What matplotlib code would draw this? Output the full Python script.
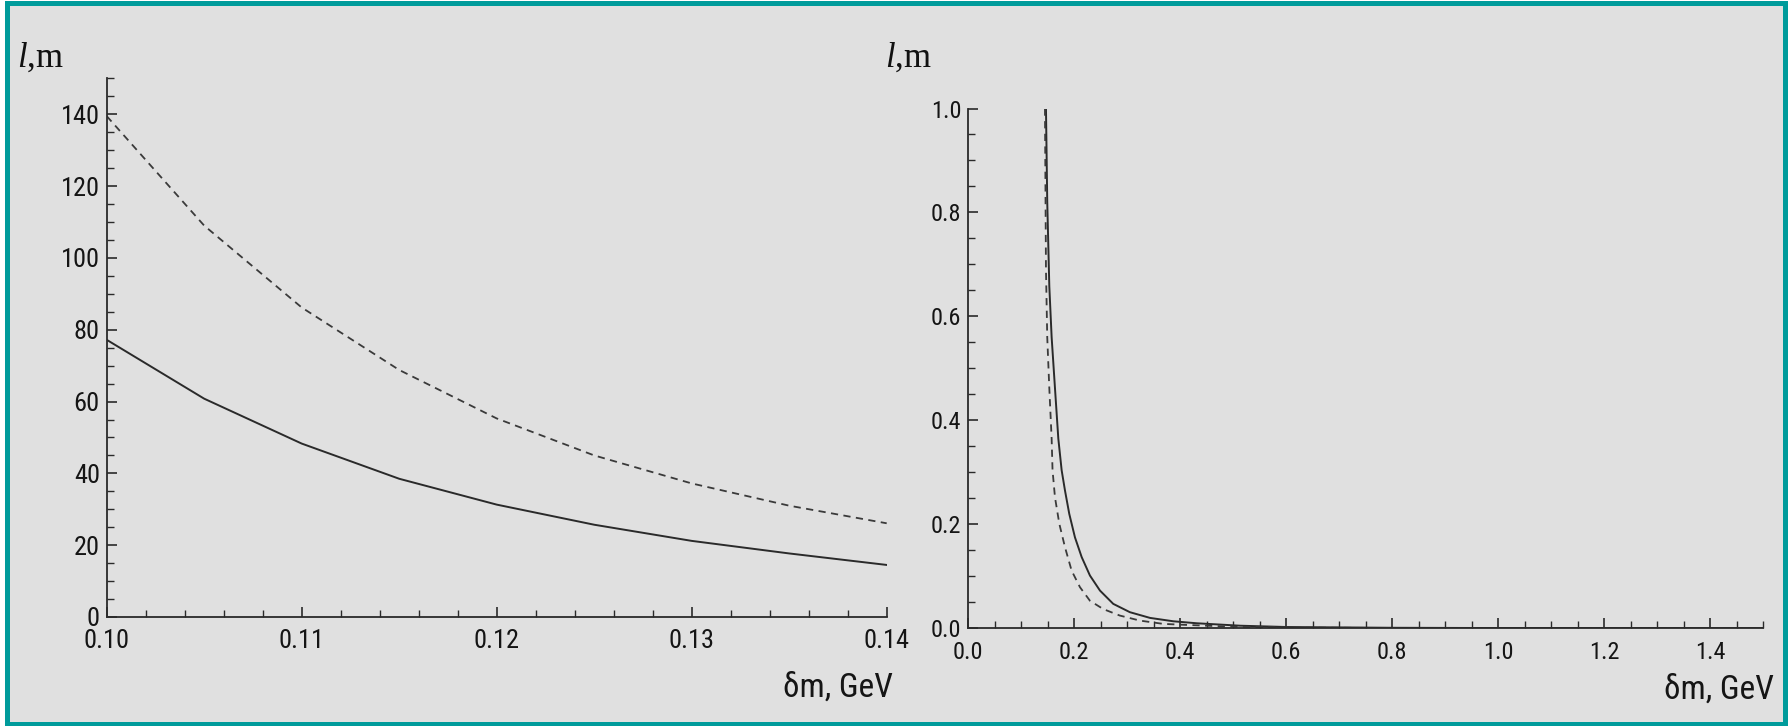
import numpy as np
import matplotlib
matplotlib.use("Agg")
import matplotlib.pyplot as plt
from matplotlib.patches import Rectangle
from matplotlib.ticker import MultipleLocator, FormatStrFormatter

# data ------------------------------------------------------------------------
# left panel: delta m in GeV, decay length in m
dm_left = [0.100, 0.105, 0.110, 0.115, 0.120, 0.125, 0.130, 0.135, 0.140]
l_solid_left = [77.2, 60.8, 48.3, 38.5, 31.3, 25.7, 21.2, 17.7, 14.5]
l_dash_left = [139.5, 109.0, 86.2, 68.8, 55.3, 45.0, 37.2, 31.0, 26.1]

# right panel: same quantities on a wide range (curves clipped at 1.0)
dm_solid_right = [0.1466, 0.1490, 0.1529, 0.1573, 0.1636, 0.1699, 0.1762,
                  0.1825, 0.1906, 0.2013, 0.2140, 0.2296, 0.2485, 0.2736,
                  0.3050, 0.3430, 0.3870, 0.4310, 0.5130, 0.6000, 0.8000,
                  1.0000, 1.5000]
l_solid_right = [1.000, 0.821, 0.658, 0.560, 0.462, 0.365, 0.304,
                 0.265, 0.220, 0.175, 0.137, 0.1015, 0.0726, 0.047,
                 0.031, 0.020, 0.0135, 0.0097, 0.005, 0.0025, 0.001,
                 0.0005, 0.0002]
dm_dash_right = [0.1447, 0.1466, 0.1490, 0.1529, 0.1573, 0.1590, 0.1636,
                 0.1718, 0.1825, 0.1950, 0.2108, 0.2296, 0.2547, 0.2860,
                 0.3240, 0.3680, 0.4120, 0.5000, 0.6000, 0.8000, 1.0000,
                 1.5000]
l_dash_right = [1.000, 0.690, 0.560, 0.462, 0.365, 0.304, 0.252,
                0.201, 0.156, 0.111, 0.079, 0.053, 0.037, 0.0245,
                0.0148, 0.0085, 0.0065, 0.003, 0.0015, 0.0005, 0.0003,
                0.0001]

left_xticks = [0.10, 0.11, 0.12, 0.13, 0.14]
left_yticks = [0, 20, 40, 60, 80, 100, 120, 140]
right_xticks = [0.0, 0.2, 0.4, 0.6, 0.8, 1.0, 1.2, 1.4]
right_yticks = [0.0, 0.2, 0.4, 0.6, 0.8, 1.0]

W, H = 1791, 726
BG = '#e0e0e0'
TEAL = '#009b9b'
INK = '#2a2a2a'
TICKFONT = ['Roboto Condensed', 'DejaVu Sans']

plt.rcParams['mathtext.fontset'] = 'custom'
plt.rcParams['mathtext.it'] = 'Liberation Serif:italic'
plt.rcParams['mathtext.rm'] = 'Liberation Serif'

fig = plt.figure(figsize=(W / 100, H / 100), dpi=100)
fig.patch.set_facecolor('white')

# gray panel with teal frame
fig.add_artist(Rectangle((7.5 / W, 2.5 / H), (1784.5 - 7.5) / W, (723.5 - 2.5) / H,
                         transform=fig.transFigure, facecolor=BG, edgecolor=TEAL,
                         linewidth=3.6, zorder=0))


def px_axes(x0, x1, ytop, ybot):
    return fig.add_axes([x0 / W, 1 - ybot / H, (x1 - x0) / W, (ybot - ytop) / H])


def style(ax, size):
    ax.set_facecolor('none')
    for s in ['top', 'right']:
        ax.spines[s].set_visible(False)
    for s in ['left', 'bottom']:
        ax.spines[s].set_linewidth(1.3)
        ax.spines[s].set_color(INK)
    ax.tick_params(which='major', direction='in', length=7.2, width=1.2, color=INK,
                   labelsize=size, labelcolor='#151515')
    ax.tick_params(which='minor', direction='in', length=4.8, width=1.0, color=INK)
    ax.tick_params(axis='x', which='major', pad=9)
    ax.tick_params(axis='y', which='major', pad=5)
    for lab in ax.get_xticklabels() + ax.get_yticklabels():
        lab.set_family(TICKFONT)
        lab.set_stretch('condensed')


# left panel
ax1 = px_axes(106.7, 886.7, 78.4, 617)
ax1.plot(dm_left, l_solid_left, color=INK, lw=1.4, solid_joinstyle='round')
ax1.plot(dm_left, l_dash_left, color='#3a3a3a', lw=1.3, ls=(0, (4, 3)))
ax1.set_xticks(left_xticks)
ax1.set_yticks(left_yticks)
ax1.xaxis.set_minor_locator(MultipleLocator(0.002))
ax1.yaxis.set_minor_locator(MultipleLocator(5))
ax1.xaxis.set_major_formatter(FormatStrFormatter('%.2f'))
ax1.yaxis.set_major_formatter(FormatStrFormatter('%d'))
ax1.set_xlim(0.10, 0.14)
ax1.set_ylim(0, 150)
style(ax1, 19)

# right panel
ax2 = px_axes(968.3, 1763, 108.5, 628.3)
ax2.plot(dm_solid_right, l_solid_right, color=INK, lw=1.4, solid_joinstyle='round')
ax2.plot(dm_dash_right, l_dash_right, color='#3a3a3a', lw=1.3, ls=(0, (4, 3)))
ax2.set_xticks(right_xticks)
ax2.set_yticks(right_yticks)
ax2.xaxis.set_minor_locator(MultipleLocator(0.05))
ax2.yaxis.set_minor_locator(MultipleLocator(0.05))
ax2.xaxis.set_major_formatter(FormatStrFormatter('%.1f'))
ax2.yaxis.set_major_formatter(FormatStrFormatter('%.1f'))
ax2.set_xlim(0, 1.5)
ax2.set_ylim(0, 1.0)
style(ax2, 17.5)

# axis titles
for xp in [17, 885]:
    fig.text(xp / W, 1 - 67 / H, r'$\mathit{l}$,m', fontsize=25,
             family='Liberation Serif', color='#111111', va='baseline', ha='left')
for xp, yp in [(893, 688), (1774, 690)]:
    fig.text(xp / W, 1 - yp / H, 'δm, GeV', fontsize=24, family=TICKFONT,
             stretch='condensed', color='#151515', va='center', ha='right')

fig.savefig('out.png', dpi=100, facecolor=fig.get_facecolor())
